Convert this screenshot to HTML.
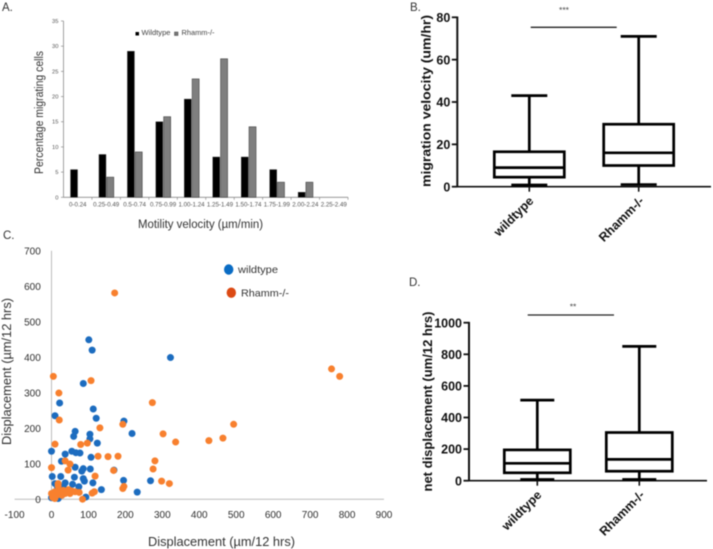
<!DOCTYPE html>
<html lang="en">
<head>
<meta charset="utf-8">
<title>Migration figure panels A-D</title>
<style>
html,body{margin:0;padding:0;background:#fff;width:713px;height:549px;overflow:hidden}
svg{display:block;filter:blur(0.5px)}
text{font-family:"Liberation Sans",sans-serif}
.b{font-weight:bold;fill:#111}
.panel{font-size:11.5px;fill:#333}
</style>
</head>
<body>
<svg id="figure" width="713" height="549" viewBox="0 0 713 549" xmlns="http://www.w3.org/2000/svg">
  <rect width="713" height="549" fill="#fff"/>

  <g id="panelA">
    <text class="panel" x="2" y="11">A.</text>
    <text transform="translate(43,112.5) rotate(-90)" text-anchor="middle" font-size="11.5" fill="#333" textLength="123" lengthAdjust="spacingAndGlyphs">Percentage migrating cells</text>
    <text x="138" y="228" font-size="11.5" fill="#333" textLength="125" lengthAdjust="spacingAndGlyphs">Motility velocity  (µm/min)</text>
    <rect x="135.5" y="32" width="3.5" height="3.5" fill="#000"/>
    <text x="141.5" y="35" font-size="7.5" fill="#444" textLength="29" lengthAdjust="spacingAndGlyphs">Wildtype</text>
    <rect x="174.5" y="32" width="3.5" height="3.5" fill="#777" stroke="#444" stroke-width="0.5"/>
    <text x="181.5" y="35" font-size="7.5" fill="#444" textLength="33" lengthAdjust="spacingAndGlyphs">Rhamm-/-</text>
  </g>

  <g id="panelB">
    <text class="panel" x="410" y="11">B.</text>
    <text class="b" transform="translate(430.5,101) rotate(-90)" text-anchor="middle" font-size="13" textLength="172" lengthAdjust="spacingAndGlyphs">migration velocity (um/hr)</text>
    <line x1="530.7" x2="616.7" y1="27.3" y2="27.3" stroke="#222" stroke-width="1.3"/>
    <text x="564" y="13" text-anchor="middle" font-size="8.5" fill="#444">***</text>
  </g>

  <g id="panelC">
    <text class="panel" x="3" y="239">C.</text>
    <text transform="translate(11,371.5) rotate(-90)" text-anchor="middle" font-size="12.5" fill="#333" textLength="147" lengthAdjust="spacingAndGlyphs">Displacement (µm/12 hrs)</text>
    <text x="148" y="546" font-size="12.5" fill="#333" textLength="147" lengthAdjust="spacingAndGlyphs">Displacement (µm/12 hrs)</text>
    <ellipse cx="228.7" cy="269.5" rx="4.7" ry="5.2" fill="#0a6cc4"/>
    <text x="238" y="273" font-size="10.5" fill="#333" textLength="40" lengthAdjust="spacingAndGlyphs">wildtype</text>
    <ellipse cx="231.3" cy="292.7" rx="4.7" ry="5.2" fill="#dc4a14"/>
    <text x="241" y="296.5" font-size="10.5" fill="#333" textLength="48" lengthAdjust="spacingAndGlyphs">Rhamm-/-</text>
  </g>

  <g id="panelD">
    <text class="panel" x="409" y="286">D.</text>
    <text class="b" transform="translate(432,401.5) rotate(-90)" text-anchor="middle" font-size="13" textLength="180" lengthAdjust="spacingAndGlyphs">net displacement (um/12 hrs)</text>
    <line x1="527.7" x2="614" y1="315" y2="315" stroke="#222" stroke-width="1.3"/>
    <text x="573" y="309.5" text-anchor="middle" font-size="8.5" fill="#444">**</text>
  </g>
</svg>

<script>
// Panel A data
const velocityBins = ['0-0.24','0.25-0.49','0.5-0.74','0.75-0.99','1.00-1.24','1.25-1.49','1.50-1.74','1.75-1.99','2.00-2.24','2.25-2.49'];
const wildtypePercent = [5.5,8.5,29,15,19.5,8,8,5.5,1,0];
const rhammPercent = [0,4,9,16,23.5,27.5,14,3,3,0];
const panelATicks = [0,5,10,15,20,25,30,35];

// Panel B data
const boxCategories = ['wildtype','Rhamm-/-'];
const velocityHigh = [43,71];
const velocityQ3 = [16.5,29.5];
const velocityMedian = [9,16];
const velocityQ1 = [4.5,10];
const velocityLow = [0.8,1];
const panelBTicks = [0,20,40,60,80];

// Panel D data
const netHigh = [510,850];
const netQ3 = [195,305];
const netMedian = [110,135];
const netQ1 = [50,60];
const netLow = [8,8];
const panelDTicks = [0,200,400,600,800,1000];

// Panel C data
const scatterXTicks = [-100,0,100,200,300,400,500,600,700,800,900];
const scatterYTicks = [0,100,200,300,400,500,600,700];
const wildtypeX = [101,110,322,86,22,9.5,113,121,196,218,64,60,104,104,124,0,37,55,66,77,107,27,64,86,82,105,169,2,25,62,86,89,195,268,9.5,37,112,57,74,135,232,93,0,18,16,32,9,28,50];
const wildtypeY = [449,420,399,326,271,235,254,228,220,185,191,177,183,170,158,135,127,135,131,130,118,107,90,86,79,85,82,64,64,62,58,51,53,52,44,46,46,42,35,27,20,6,4,2,35,35,16,11,25];
const rhammX = [171,5,107,20,758,780,273,21,131,193,493,302,336,464,426,9.5,79,97,126,153,180,280,275,168,37,50,45,0,118,298,319,193,196,84,116,110,75,0,5,9,18,18,23,32,37,46,55,64,9,3,14,41,28,50];
const rhammY = [581,346,334,299,367,346,272,223,201,211,211,184,161,172,165,155,154,158,121,120,121,108,85,81,108,99,82,89,65,51,44,30,36,0,21,17,19,16,11,21,44,37,21,25,16,27,23,21,2,5,11,18,11,16];

const SVG_NS = 'http://www.w3.org/2000/svg';
function mk(parent, tag, attrs, txt) {
  const n = document.createElementNS(SVG_NS, tag);
  for (const k in attrs) n.setAttribute(k, attrs[k]);
  if (txt !== undefined) n.textContent = txt;
  parent.appendChild(n);
  return n;
}
function linear(d0, d1, r0, r1) {
  return v => r0 + (v - d0) * (r1 - r0) / (d1 - d0);
}

/* ---------- Panel A ---------- */
(function () {
  const g = document.getElementById('panelA');
  const y = linear(0, 35, 197.3, 21);
  const left = 63.5, right = 348;
  const band = (right - left) / velocityBins.length;
  const cx = i => left + band * (i + 0.5);
  const yAxis = mk(g, 'line', {x1:left, x2:left, y1:y(35), y2:y(0), stroke:'#8a8a8a', 'stroke-width':0.8});
  
  
  const xAxis = mk(g, 'line', {x1:left, x2:right, y1:y(0), y2:y(0), stroke:'#8a8a8a', 'stroke-width':0.8});
  
  
  panelATicks.forEach(t => {
    const tick = mk(g, 'line', {x1:left - 2.5, x2:left, y1:y(t), y2:y(t), stroke:'#8a8a8a', 'stroke-width':0.7});
    
    
    const label = mk(g, 'text', {x:left - 5, y:y(t) + 2, 'text-anchor':'end', 'font-size':5.8, fill:'#555'}, String(t));
    
    
  });
  velocityBins.forEach((bin, i) => {
    const tick = mk(g, 'line', {x1:left + band * (i + 1), x2:left + band * (i + 1), y1:y(0), y2:y(0) + 2.5, stroke:'#8a8a8a', 'stroke-width':0.7});
    
    
    const label = mk(g, 'text', {x:cx(i), y:206.5, 'text-anchor':'middle', 'font-size':6.2, fill:'#555'}, bin);
    
    
    if (wildtypePercent[i] > 0) {
      const bar = mk(g, 'rect', {x:cx(i) - 7.2, y:y(wildtypePercent[i]), width:7, height:y(0) - y(wildtypePercent[i]), fill:'#000', stroke:'#333', 'stroke-width':0.4});
      
      
    }
    if (rhammPercent[i] > 0) {
      const bar = mk(g, 'rect', {x:cx(i) + 0.6, y:y(rhammPercent[i]), width:7, height:y(0) - y(rhammPercent[i]), fill:'#7f7f7f', stroke:'#444', 'stroke-width':0.6});
      
      
    }
  });
})();

/* ---------- Panels B and D ---------- */
function drawBoxPanel(g, o) {
  const y = linear(o.tickValues[0], o.tickValues[o.tickValues.length - 1], o.y0, o.yTop);
  const yAxis = mk(g, 'line', {x1:o.axisX, x2:o.axisX, y1:o.yTop - 0.8, y2:o.y0 + 0.8, stroke:'#111', 'stroke-width':2});
  
  
  const xAxis = mk(g, 'line', {x1:o.axisX, x2:o.axisEnd, y1:o.y0, y2:o.y0, stroke:'#111', 'stroke-width':1.6});
  
  
  o.tickValues.forEach(t => {
    const tick = mk(g, 'line', {x1:o.axisX - 5.5, x2:o.axisX, y1:y(t), y2:y(t), stroke:'#111', 'stroke-width':1.8});
    
    
    const label = mk(g, 'text', {x:o.axisX - 7, y:y(t) + 4.6, 'text-anchor':'end', 'font-size':12.5, class:'b'}, String(t));
    
    
  });
  boxCategories.forEach((name, i) => {
    const c = o.centers[i];
    const stroke = {stroke:'#000', 'stroke-width':2.7, fill:'none'};
    const whisker = mk(g, 'line', Object.assign({x1:c, x2:c, y1:y(o.high[i]), y2:y(o.low[i])}, stroke));
    
    
    const capHigh = mk(g, 'line', Object.assign({x1:c - o.cap, x2:c + o.cap, y1:y(o.high[i]), y2:y(o.high[i])}, stroke));
    
    
    const capLow = mk(g, 'line', Object.assign({x1:c - o.cap, x2:c + o.cap, y1:y(o.low[i]), y2:y(o.low[i])}, stroke));
    
    
    const box = mk(g, 'rect', {x:c - o.half, y:y(o.q3[i]), width:o.half * 2, height:y(o.q1[i]) - y(o.q3[i]), fill:'#fff', stroke:'#000', 'stroke-width':2.7});
    
    
    const median = mk(g, 'line', Object.assign({x1:c - o.half, x2:c + o.half, y1:y(o.median[i]), y2:y(o.median[i])}, stroke));
    
    
    const tick = mk(g, 'line', {x1:c, x2:c, y1:o.y0, y2:o.y0 + 5, stroke:'#111', 'stroke-width':1.6});
    
    
    const lx = c + 5 + i, ly = o.y0 + 15;
    const label = mk(g, 'text', {x:lx, y:ly, 'text-anchor':'end', 'font-size':12.5, class:'b', transform:'rotate(-45 ' + lx + ' ' + ly + ')'}, name);
    
    
  });
}
drawBoxPanel(document.getElementById('panelB'), {
  tickValues:panelBTicks, y0:186.7, yTop:17.3, axisX:457.3, axisEnd:711,
  centers:[529.3,638.7], half:35, cap:18,
  high:velocityHigh, q3:velocityQ3, median:velocityMedian, q1:velocityQ1, low:velocityLow
});
drawBoxPanel(document.getElementById('panelD'), {
  tickValues:panelDTicks, y0:480.7, yTop:322.7, axisX:469, axisEnd:707,
  centers:[537.3,639.3], half:33, cap:17,
  high:netHigh, q3:netQ3, median:netMedian, q1:netQ1, low:netLow
});

/* ---------- Panel C ---------- */
(function () {
  const g = document.getElementById('panelC');
  const x = linear(0, 900, 51.5, 384);
  const y = linear(0, 700, 499.2, 250.7);
  const yAxis = mk(g, 'line', {x1:x(0), x2:x(0), y1:y(700), y2:y(0), stroke:'#bdbdbd', 'stroke-width':1});
  
  
  const xAxis = mk(g, 'line', {x1:x(-100), x2:x(900), y1:y(0), y2:y(0), stroke:'#bdbdbd', 'stroke-width':1});
  
  
  scatterYTicks.forEach(t => {
    const label = mk(g, 'text', {x:40.8, y:y(t) + 3.6, 'text-anchor':'end', 'font-size':10, fill:'#303030'}, String(t));
    
    
  });
  scatterXTicks.forEach(t => {
    const label = mk(g, 'text', {x:x(t), y:518, 'text-anchor':'middle', 'font-size':10, fill:'#303030'}, String(t));
    
    
  });
  wildtypeX.forEach((v, i) => {
    const p = mk(g, 'circle', {cx:x(v), cy:y(wildtypeY[i]), r:3.5, fill:'#1c6cbf'});
    
    
  });
  rhammX.forEach((v, i) => {
    const p = mk(g, 'circle', {cx:x(v), cy:y(rhammY[i]), r:3.5, fill:'#f8802e'});
    
    
  });
})();
</script>
</body>
</html>
